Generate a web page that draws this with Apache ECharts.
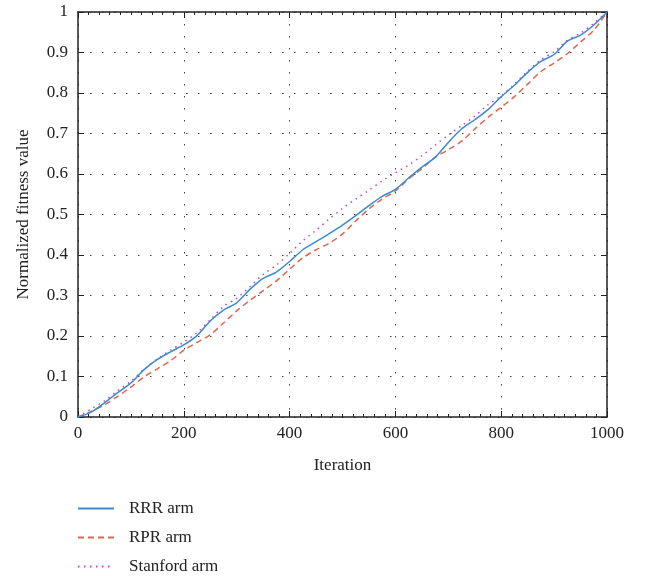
<!DOCTYPE html>
<html>
<head>
<meta charset="utf-8">
<script src="https://cdn.jsdelivr.net/npm/echarts@6/dist/echarts.min.js"></script>
<style>html,body{margin:0;padding:0;background:#fff}#c{width:645px;height:576px}</style>
</head>
<body>
<div id="c"></div>
<script>
var iterations = [0,25,50,75,100,125,150,175,200,225,250,275,300,325,350,375,400,425,450,475,500,525,550,575,600,625,650,675,700,725,750,775,800,825,850,875,900,925,950,975,1000];
var rrrArm = [0,0.012,0.035,0.060,0.084,0.117,0.142,0.161,0.178,0.201,0.237,0.264,0.282,0.315,0.342,0.358,0.384,0.413,0.433,0.453,0.474,0.497,0.522,0.545,0.562,0.590,0.617,0.641,0.678,0.711,0.734,0.759,0.791,0.819,0.851,0.878,0.895,0.928,0.943,0.968,1.0];
var rprArm = [0,0.014,0.030,0.051,0.074,0.099,0.119,0.139,0.165,0.184,0.203,0.232,0.262,0.288,0.312,0.336,0.365,0.393,0.413,0.429,0.452,0.484,0.514,0.538,0.558,0.588,0.613,0.641,0.660,0.681,0.711,0.740,0.765,0.791,0.822,0.853,0.874,0.897,0.926,0.955,1.0];
var stanfordArm = [0,0.020,0.040,0.065,0.088,0.118,0.143,0.165,0.185,0.208,0.240,0.273,0.293,0.322,0.352,0.375,0.404,0.435,0.461,0.489,0.515,0.538,0.560,0.583,0.603,0.622,0.645,0.671,0.696,0.719,0.743,0.771,0.793,0.822,0.854,0.882,0.902,0.930,0.948,0.972,1.0];
var seriesNames = ['RRR arm','RPR arm','Stanford arm'];
var xTitle = 'Iteration';
var yTitle = 'Normalized fitness value';

function pairs(vals){ return iterations.map(function(x,i){ return [x, vals[i]]; }); }
var FONT = 'Liberation Serif';
var txt = '#222';
var gridLine = {show:true, lineStyle:{color:'#444', width:1, type:[1.5,10.5]}};

var chart = echarts.init(document.getElementById('c'));
chart.setOption({
  animation:false,
  grid:{left:78, top:12, right:38, bottom:159},
  legend:{
    orient:'vertical', left:72, top:495, height:81, itemWidth:36, itemHeight:14, itemGap:12,
    itemStyle:{opacity:0},
    textStyle:{fontFamily:FONT, fontSize:17, color:txt, padding:[0,0,0,10]},
    data:seriesNames
  },
  xAxis:[{
    type:'value', min:0, max:1000, interval:200, position:'bottom',
    name:xTitle, nameLocation:'middle', nameGap:40,
    nameTextStyle:{fontFamily:FONT, fontSize:17, color:txt},
    axisLine:{show:true, onZero:false, lineStyle:{color:'#222', width:1.5}},
    axisTick:{show:true, inside:true, length:6, lineStyle:{color:'#222'}},
    minorTick:{show:true, splitNumber:10, length:3, lineStyle:{color:'#222'}},
    axisLabel:{fontFamily:FONT, fontSize:17, color:txt, margin:8,
      formatter:function(v){ return String(v); }},
    splitLine:gridLine
  },{
    type:'value', min:0, max:1000, interval:200, position:'top',
    axisLine:{show:true, onZero:false, lineStyle:{color:'#222', width:1.5}},
    axisTick:{show:true, inside:true, length:6, lineStyle:{color:'#222'}},
    minorTick:{show:true, splitNumber:10, length:3, lineStyle:{color:'#222'}},
    axisLabel:{show:false}, splitLine:{show:false}
  }],
  yAxis:[{
    type:'value', min:0, max:1, interval:0.1, position:'left',
    name:yTitle, nameLocation:'middle', nameGap:46, nameRotate:90,
    nameTextStyle:{fontFamily:FONT, fontSize:17, color:txt},
    axisLine:{show:true, onZero:false, lineStyle:{color:'#222', width:1.5}},
    axisTick:{show:true, inside:true, length:6, lineStyle:{color:'#222'}},
    axisLabel:{fontFamily:FONT, fontSize:17, color:txt, margin:10,
      formatter:function(v){ return String(Math.round(v*10)/10); }},
    splitLine:gridLine
  },{
    type:'value', min:0, max:1, interval:0.1, position:'right',
    axisLine:{show:true, onZero:false, lineStyle:{color:'#222', width:1.5}},
    axisTick:{show:true, inside:true, length:6, lineStyle:{color:'#222'}},
    axisLabel:{show:false}, splitLine:{show:false}
  }],
  series:[
    {name:seriesNames[0], type:'line', data:pairs(rrrArm), symbol:'none', smooth:0.3,
      lineStyle:{color:'#3a8bd2', width:1.5}, itemStyle:{color:'#3a8bd2'}, z:4},
    {name:seriesNames[1], type:'line', data:pairs(rprArm), symbol:'none', smooth:0.3,
      lineStyle:{color:'#e0644e', width:1.5, type:[6,4]}, itemStyle:{color:'#e0644e'}, z:3},
    {name:seriesNames[2], type:'line', data:pairs(stanfordArm), symbol:'none', smooth:0.3,
      lineStyle:{color:'#cc44bb', width:1.5, type:[1.5,4.5]}, itemStyle:{color:'#cc44bb'}, z:2}
  ]
});
</script>
</body>
</html>
